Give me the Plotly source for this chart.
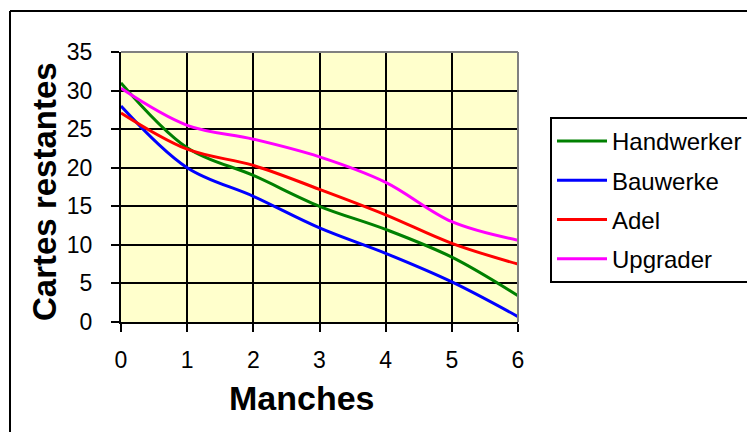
import plotly.graph_objects as go

manches = [0, 1, 2, 3, 4, 5, 6]
handwerker = [31.0, 22.6, 19.0, 15.0, 12.0, 8.4, 3.4]
bauwerke = [28.0, 20.0, 16.3, 12.2, 8.9, 5.2, 0.7]
adel = [27.1, 22.4, 20.3, 17.2, 13.9, 10.2, 7.5]
upgrader = [30.3, 25.5, 23.7, 21.4, 18.1, 13.0, 10.6]

series = [
    ("Handwerker", handwerker, "#008000"),
    ("Bauwerke", bauwerke, "#0000FF"),
    ("Adel", adel, "#FF0000"),
    ("Upgrader", upgrader, "#FF00FF"),
]

W, H = 747, 432
L, R, T, B = 121, 518, 52, 322  # plot area pixel box
pw, ph = R - L, B - T

def px(xp):
    return (xp - L) / pw

def py(yp):
    return (B - yp) / ph

FONT = "Liberation Sans, Arial, sans-serif"

fig = go.Figure()
for i, (name, vals, col) in enumerate(series):
    fig.add_trace(go.Scatter(
        x=manches, y=vals, name=name, mode="lines",
        line=dict(color=col, width=3, shape="spline", smoothing=1),
        legendgroup=f"g{i}",
    ))

fig.update_layout(
    width=W, height=H,
    margin=dict(l=L, r=W - R, t=T, b=H - B, pad=0, autoexpand=False),
    paper_bgcolor="white",
    plot_bgcolor="#FFFFCC",
    font=dict(family=FONT, color="black"),
    showlegend=True,
    legend=dict(
        x=px(550), y=py(117), xanchor="left", yanchor="top",
        bgcolor="white", bordercolor="black", borderwidth=2,
        font=dict(family=FONT, size=24, color="black"),
        traceorder="grouped", tracegroupgap=5, itemwidth=50,
    ),
    xaxis=dict(
        range=[0, 6], tickmode="linear", tick0=0, dtick=1,
        showgrid=True, gridcolor="black", gridwidth=2,
        showline=True, linecolor="black", linewidth=2,
        ticks="outside", ticklen=8, tickwidth=2, tickcolor="black",
        tickfont=dict(family=FONT, size=23, color="black"),
        ticklabelstandoff=8,
        zeroline=False, fixedrange=True,
    ),
    yaxis=dict(
        range=[0, 35], tickmode="linear", tick0=0, dtick=5,
        showgrid=True, gridcolor="black", gridwidth=2,
        showline=True, linecolor="black", linewidth=2,
        ticks="outside", ticklen=8, tickwidth=2, tickcolor="black",
        tickfont=dict(family=FONT, size=23, color="black"),
        ticklabelstandoff=14,
        zeroline=False, fixedrange=True,
    ),
    annotations=[
        dict(text="<b>Cartes restantes</b>", textangle=-90,
             x=px(44), y=py(192), xref="paper", yref="paper",
             xanchor="center", yanchor="middle", showarrow=False,
             font=dict(family=FONT, size=33, color="black")),
        dict(text="<b>Manches</b>",
             x=px(302), y=py(398), xref="paper", yref="paper",
             xanchor="center", yanchor="middle", showarrow=False,
             font=dict(family=FONT, size=34, color="black")),
    ],
    shapes=[
        dict(type="line", xref="paper", yref="paper", x0=0, x1=1, y0=1, y1=1,
             line=dict(color="#808080", width=2), layer="above"),
        dict(type="line", xref="paper", yref="paper", x0=1, x1=1, y0=0, y1=1,
             line=dict(color="#808080", width=2), layer="above"),
        dict(type="line", xref="paper", yref="paper", x0=px(10), x1=px(760),
             y0=py(11), y1=py(11), line=dict(color="black", width=2)),
        dict(type="line", xref="paper", yref="paper", x0=px(10), x1=px(10),
             y0=py(11), y1=py(450), line=dict(color="black", width=2)),
    ],
)

fig.write_html("out.html")
